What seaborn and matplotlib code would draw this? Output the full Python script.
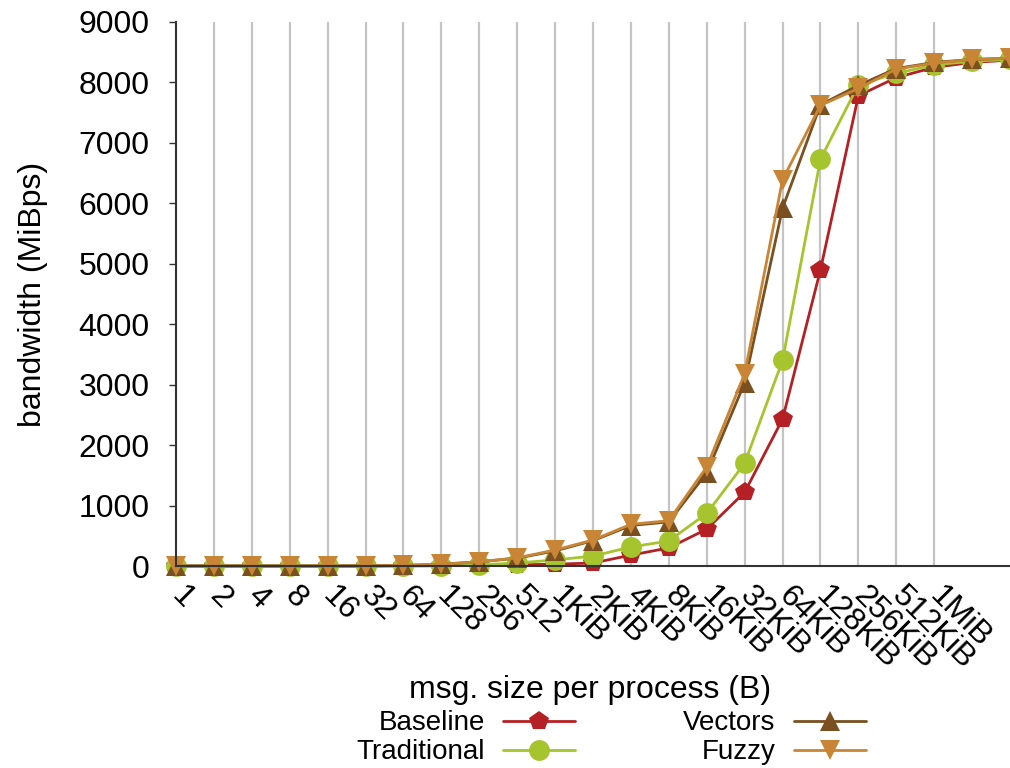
# Bandwidth vs. message size, four variants
import matplotlib
matplotlib.use("Agg")
import matplotlib.pyplot as plt
import seaborn as sns
import pandas as pd

# x categories (last two points have no tick label)
sizes = ["1", "2", "4", "8", "16", "32", "64", "128", "256", "512",
         "1KiB", "2KiB", "4KiB", "8KiB", "16KiB", "32KiB", "64KiB",
         "128KiB", "256KiB", "512KiB", "1MiB", "2MiB", "4MiB"]
tick_labels = sizes[:21]

baseline = [0, 0, 0, 0, 0, 0, 2, 5, 10, 20, 30, 50, 180, 300, 610,
            1220, 2430, 4900, 7780, 8080, 8250, 8330, 8370]
traditional = [0, 0, 0, 0, 0, 0, 3, 8, 20, 50, 100, 165, 315, 415, 870,
               1700, 3400, 6730, 7960, 8150, 8290, 8350, 8380]
vectors = [0, 0, 0, 0, 0, 2, 10, 30, 70, 130, 250, 420, 670, 730, 1540,
           3030, 5920, 7630, 7950, 8230, 8330, 8380, 8400]
fuzzy = [0, 0, 0, 0, 0, 2, 10, 30, 70, 135, 265, 430, 690, 750, 1640,
         3180, 6390, 7620, 7900, 8220, 8320, 8380, 8400]

series = ["Baseline", "Traditional", "Vectors", "Fuzzy"]
colors = {"Baseline": "#B42024", "Traditional": "#A5C42E",
          "Vectors": "#7B5020", "Fuzzy": "#C88535"}
markers = {"Baseline": "p", "Traditional": "o", "Vectors": "^", "Fuzzy": "v"}

rows = []
for name, vals in zip(series, [baseline, traditional, vectors, fuzzy]):
    for i, v in enumerate(vals):
        rows.append({"pos": i, "bw": v, "variant": name})
df = pd.DataFrame(rows)

sns.set_style("white")
plt.rcParams["font.family"] = ["Liberation Sans", "DejaVu Sans"]
plt.rcParams["text.color"] = "black"
plt.rcParams["axes.labelcolor"] = "black"
plt.rcParams["xtick.color"] = "black"
plt.rcParams["ytick.color"] = "black"

fs = 23
fig = plt.figure(figsize=(10.1, 7.68), dpi=100)
ax = fig.add_axes([0.1743, 0.263, 0.8257, 0.7084])

ax.grid(False)
for i in range(1, 21):
    ax.axvline(i, color="#c4c4c4", lw=1.6, zorder=0)

sns.lineplot(data=df, x="pos", y="bw", hue="variant", style="variant",
             hue_order=series, style_order=series, palette=colors,
             markers=markers, dashes=False, markersize=15, linewidth=2,
             markeredgewidth=0, ax=ax, clip_on=False, legend=True)

ax.set_xlim(0, 22)
ax.set_ylim(0, 9000)
ax.set_yticks(range(0, 9001, 1000))
ax.set_xticks(range(21))
ax.set_xticklabels(tick_labels, rotation=-45, ha="left", va="center",
                   rotation_mode="anchor")
ax.tick_params(axis="x", labelsize=fs, length=0, pad=18)
ax.tick_params(axis="y", labelsize=fs, length=5, width=1, direction="out",
               left=True, color="#333333", pad=14)
for s in ["top", "right"]:
    ax.spines[s].set_visible(False)
for s in ["left", "bottom"]:
    ax.spines[s].set_color("#333333")
    ax.spines[s].set_linewidth(1.5)

ax.set_ylabel("bandwidth (MiBps)", fontsize=fs)
ax.yaxis.set_label_coords(-0.153, 0.5)
ax.set_xlabel("")
fig.text(0.584, 0.1016, "msg. size per process (B)",
         ha="center", va="center", fontsize=fs)

handles, labels = ax.get_legend_handles_labels()
ax.legend_.remove()
fig.legend(handles, labels, ncol=2, loc="lower center",
           bbox_to_anchor=(0.605, -0.029), frameon=False, markerfirst=False,
           fontsize=20, handlelength=2.6, columnspacing=3.9,
           labelspacing=0.1, handletextpad=0.65)

fig.savefig("out.png", dpi=100)
